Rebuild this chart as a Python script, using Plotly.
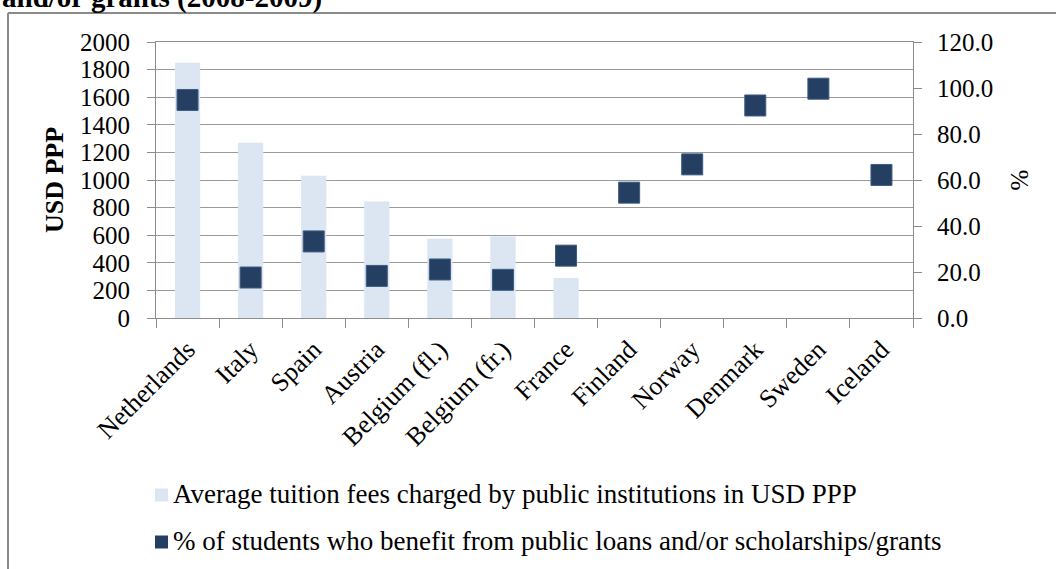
import plotly.graph_objects as go

# Countries shown on the category axis
countries = ["Netherlands", "Italy", "Spain", "Austria", "Belgium (fl.)",
             "Belgium (fr.)", "France", "Finland", "Norway", "Denmark",
             "Sweden", "Iceland"]

# Average tuition fees charged by public institutions (USD PPP); no fees in the Nordic countries
tuition_fees = [1850, 1270, 1030, 845, 575, 590, 290, None, None, None, None, None]

# Share of students benefiting from public loans and/or scholarships/grants (%)
pct_support = [94.8, 17.6, 33.3, 18.3, 21.1, 16.6, 27.1, 54.5, 66.8, 92.4, 99.7, 62.2]

left_ticks = list(range(0, 2001, 200))
right_ticks = [0, 20, 40, 60, 80, 100, 120]
right_tick_text = [f"{v:.1f}" for v in right_ticks]

series_names = [
    "Average tuition fees charged by public institutions in USD PPP",
    "% of students who benefit from public loans and/or scholarships/grants",
]
BAR_COLOR = "#DCE6F2"
MARKER_COLOR = "#243F62"

SERIF = "Times New Roman, Liberation Serif, serif"
GRID = "#9A9A9A"
AXIS = "#8C8C8C"

W, H = 1056, 569
L, R, T, B = 156, 143, 42, 251
plot_w = W - L - R
plot_h = H - T - B


def px_to_paper_x(px):
    return (px - L) / plot_w


def px_to_paper_y(py):
    return (H - B - py) / plot_h


fig = go.Figure()

fig.add_trace(go.Bar(
    x=countries, y=tuition_fees,
    name=series_names[0],
    marker=dict(color=BAR_COLOR, line=dict(width=0)),
    width=0.4,
    yaxis="y",
))

fig.add_trace(go.Scatter(
    x=countries, y=pct_support,
    name=series_names[1],
    mode="markers",
    marker=dict(symbol="square", size=21, color=MARKER_COLOR,
                line=dict(color="#3E5C82", width=1)),
    yaxis="y2",
))

fig.update_layout(
    width=W, height=H,
    margin=dict(l=L, r=R, t=T, b=B, autoexpand=False),
    paper_bgcolor="white",
    plot_bgcolor="white",
    font=dict(family=SERIF, color="black", size=24),
    showlegend=False,
    xaxis=dict(
        type="category",
        range=[-0.5, len(countries) - 0.5],
        automargin=False,
        tickangle=-45,
        tickson="boundaries",
        ticks="outside", ticklen=9, tickcolor=AXIS, tickwidth=1,
        ticklabelstandoff=5,
        showline=True, linecolor=AXIS, linewidth=1, mirror=True,
        showgrid=False,
        tickfont=dict(family=SERIF, size=26, color="black"),
    ),
    yaxis=dict(
        range=[0, 2000],
        automargin=False,
        tickvals=left_ticks,
        ticks="outside", ticklen=8, tickcolor=AXIS, tickwidth=1,
        ticklabelstandoff=12,
        showline=True, linecolor=AXIS, linewidth=1,
        showgrid=True, gridcolor=GRID, gridwidth=1,
        zeroline=False,
        tickfont=dict(family=SERIF, size=25, color="black"),
        title=dict(text="<b>USD PPP</b>", standoff=8,
                   font=dict(family=SERIF, size=26, color="black")),
    ),
    yaxis2=dict(
        range=[0, 120],
        automargin=False,
        overlaying="y", side="right",
        tickvals=right_ticks, ticktext=right_tick_text,
        ticks="outside", ticklen=8, tickcolor=AXIS, tickwidth=1,
        ticklabelstandoff=10,
        showline=True, linecolor=AXIS, linewidth=1,
        showgrid=False, zeroline=False,
        tickfont=dict(family=SERIF, size=25, color="black"),
        title=dict(text="%", standoff=18,
                   font=dict(family=SERIF, size=25, color="black")),
    ),
    bargap=0.6,
)

# Legend below the axis: colour swatch followed by the series name
legend_rows = [(series_names[0], BAR_COLOR, 495), (series_names[1], MARKER_COLOR, 542)]
for label, colour, row_y in legend_rows:
    fig.add_shape(type="rect", xref="paper", yref="paper",
                  x0=px_to_paper_x(155), x1=px_to_paper_x(168),
                  y0=px_to_paper_y(row_y + 6.5), y1=px_to_paper_y(row_y - 6.5),
                  fillcolor=colour, line=dict(width=0))
    fig.add_annotation(
        text=label, xref="paper", yref="paper",
        x=px_to_paper_x(171), xanchor="left",
        y=px_to_paper_y(row_y - 1), yanchor="middle",
        showarrow=False,
        font=dict(family=SERIF, size=27, color="black"),
    )

# Chart frame (top and left edges)
frame_x = px_to_paper_x(8)
frame_y = px_to_paper_y(13)
fig.add_shape(type="line", xref="paper", yref="paper",
              x0=frame_x, x1=px_to_paper_x(W + 10), y0=frame_y, y1=frame_y,
              line=dict(color="#8A8A8A", width=2))
fig.add_shape(type="line", xref="paper", yref="paper",
              x0=frame_x, x1=frame_x, y0=frame_y, y1=px_to_paper_y(H + 10),
              line=dict(color="#8A8A8A", width=2))

# Last line of the heading above the frame
fig.add_annotation(
    text="<b>and/or grants (2008-2009)</b>",
    xref="paper", yref="paper",
    x=px_to_paper_x(0), xanchor="left",
    y=px_to_paper_y(16), yanchor="bottom",
    showarrow=False,
    font=dict(family=SERIF, size=29, color="black"),
)

fig.write_html("out.html")
